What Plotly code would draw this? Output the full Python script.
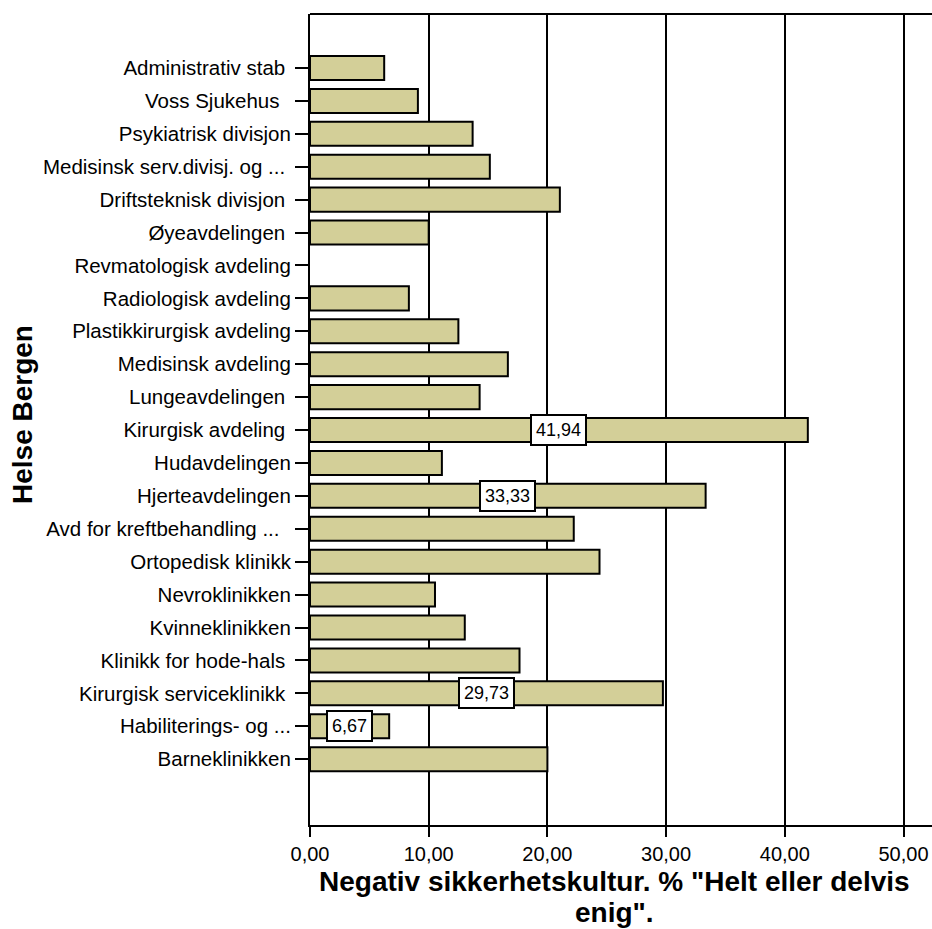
import plotly.graph_objects as go

# Units, listed top to bottom as they appear on the chart
units = [
    "Administrativ stab\u00a0",
    "Voss Sjukehus\u00a0\u00a0",
    "Psykiatrisk divisjon",
    "Medisinsk serv.divisj. og ...\u00a0",
    "Driftsteknisk divisjon\u00a0",
    "Øyeavdelingen\u00a0",
    "Revmatologisk avdeling",
    "Radiologisk avdeling",
    "Plastikkirurgisk avdeling",
    "Medisinsk avdeling",
    "Lungeavdelingen\u00a0",
    "Kirurgisk avdeling\u00a0",
    "Hudavdelingen",
    "Hjerteavdelingen",
    "Avd for kreftbehandling ...\u00a0\u00a0",
    "Ortopedisk klinikk",
    "Nevroklinikken",
    "Kvinneklinikken",
    "Klinikk for hode-hals\u00a0",
    "Kirurgisk serviceklinikk\u00a0",
    "Habiliterings- og ...",
    "Barneklinikken",
]

# Share answering "Helt eller delvis enig" (%)
percent = [
    6.25, 9.09, 13.70, 15.15, 21.05, 10.00, 0.00, 8.33, 12.50, 16.67, 14.29,
    41.94, 11.11, 33.33, 22.22, 24.39, 10.53, 13.04, 17.65, 29.73, 6.67, 20.00,
]

# Units whose value is printed on the bar
labelled_units = ["Kirurgisk avdeling\u00a0", "Hjerteavdelingen",
                  "Kirurgisk serviceklinikk\u00a0", "Habiliterings- og ..."]

x_ticks = [0, 10, 20, 30, 40, 50]

x_title_lines = ['Negativ sikkerhetskultur. % "Helt eller delvis', 'enig".']
y_title = "Helse Bergen"

FONT = "Liberation Sans, Arial, sans-serif"

# Plot-area geometry in pixels
W, H = 932, 929
L, T, B = 310, 14, 104
PW, PH = W - L, H - T - B
PX_PER_UNIT = 11.87


def px_x(px):
    return (px - L) / PW


def px_y(py):
    return (H - B - py) / PH


fig = go.Figure(
    go.Bar(
        x=percent,
        y=units,
        orientation="h",
        marker=dict(
            color="#D3CF98",
            line=dict(color="black", width=[2 if v > 0 else 0 for v in percent]),
        ),
        hoverinfo="x+y",
    )
)

for u, v in zip(units, percent):
    if u in labelled_units:
        fig.add_annotation(
            x=v / 2, y=u, xref="x", yref="y",
            text=f"{v:.2f}".replace(".", ","),
            showarrow=False,
            font=dict(family=FONT, size=18, color="black"),
            bgcolor="white", bordercolor="black", borderwidth=2, borderpad=4,
        )

# X-axis title, one annotation per line
for line, cy in zip(x_title_lines, [882, 912]):
    fig.add_annotation(
        xref="paper", x=px_x(614), xanchor="center",
        yref="paper", y=px_y(cy), yanchor="middle",
        text=f"<b>{line}</b>", showarrow=False,
        font=dict(family=FONT, size=28, color="black"),
    )

# Y-axis title
fig.add_annotation(
    xref="paper", x=px_x(22), xanchor="center",
    yref="paper", y=px_y(415), yanchor="middle",
    text=f"<b>{y_title}</b>", textangle=-90, showarrow=False,
    font=dict(family=FONT, size=28, color="black"),
)

# Top frame line
fig.add_shape(type="line", xref="paper", yref="paper", x0=0, x1=1, y0=1, y1=1,
              line=dict(color="black", width=2))

fig.update_layout(
    width=W, height=H,
    margin=dict(l=L, r=0, t=T, b=B),
    paper_bgcolor="white", plot_bgcolor="white",
    separators=", ",
    showlegend=False,
    bargap=0.27,
    font=dict(family=FONT, color="black"),
    xaxis=dict(
        range=[0, PW / PX_PER_UNIT],
        tickvals=x_ticks, tickformat=".2f",
        showgrid=True, gridcolor="black", gridwidth=2,
        showline=True, linecolor="black", linewidth=2,
        ticks="outside", ticklen=10, tickwidth=2, tickcolor="black",
        tickfont=dict(family=FONT, size=20, color="black"),
        zeroline=False,
    ),
    yaxis=dict(
        range=[23.0, -1.64],
        showline=True, linecolor="black", linewidth=2,
        ticks="outside", ticklen=13, tickwidth=2, tickcolor="black",
        tickfont=dict(family=FONT, size=20.5, color="black"),
        showgrid=False, zeroline=False,
    ),
)

fig.write_html("out.html")
